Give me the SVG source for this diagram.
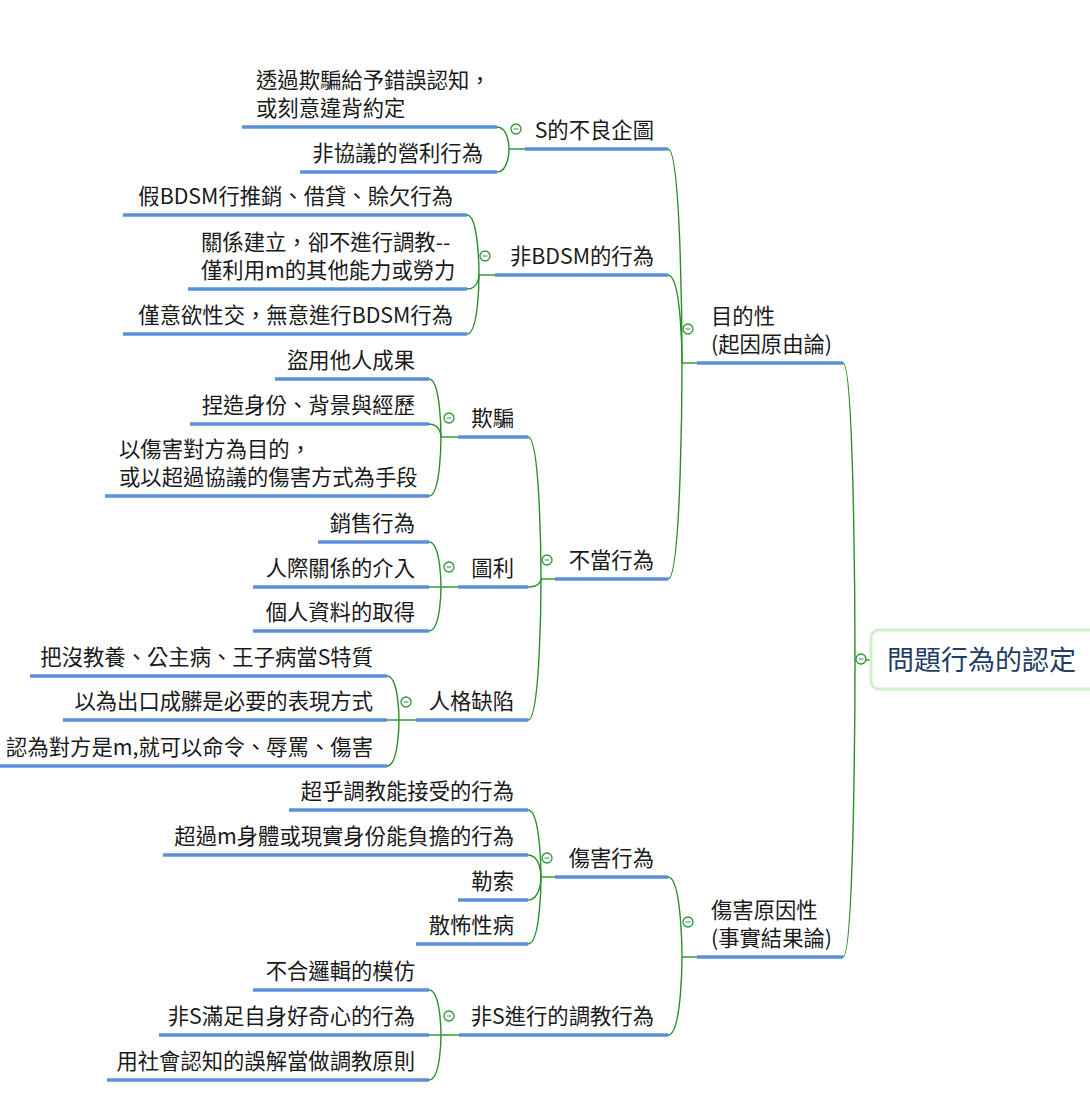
<svg xmlns="http://www.w3.org/2000/svg" width="1090" height="1110" viewBox="0 0 1090 1110">
<defs>
<style>
.t{font-family:"Noto Sans CJK TC","Noto Sans CJK SC",sans-serif;font-size:21.33px;fill:#1a1a1a}
.e{text-anchor:end}
.u{stroke:#5b8fd8;stroke-width:3.5;fill:none}
.c{stroke:#2a8f2a;stroke-width:1.4;fill:none}
.ic circle{fill:#fff;stroke:#2a9a2a;stroke-width:1.3}
.ic line{stroke:#8a9cc4;stroke-width:1.5}
.root{fill:#fff;stroke:#cbf3cb;stroke-width:3}
.rt{font-family:"Noto Sans CJK TC","Noto Sans CJK SC",sans-serif;font-size:27px;fill:#1f3d66}
</style>
<g id="icon" class="ic"><circle cx="0" cy="0" r="5"/><line x1="-2.5" y1="0" x2="2.5" y2="0"/></g>
</defs>
<rect width="1090" height="1110" fill="#fff"/>

<g id="connectors">
<!-- root -->
<path class="c" d="M855 660 H871"/>
<path class="c" d="M843 363 C855 363 855 660 855 660"/>
<path class="c" d="M843 957 C855 957 855 660 855 660"/>
<!-- 目的性 -->
<path class="c" d="M682 363 H697"/>
<path class="c" d="M668 149 C682 149 682 363 682 363"/>
<path class="c" d="M668 275 C682 275 682 363 682 363"/>
<path class="c" d="M668 579 C682 579 682 363 682 363"/>
<!-- 傷害原因性 -->
<path class="c" d="M682 957 H697"/>
<path class="c" d="M668 877 C682 877 682 957 682 957"/>
<path class="c" d="M668 1035 C682 1035 682 957 682 957"/>
<!-- S的不良企圖 -->
<path class="c" d="M509 149 H525"/>
<path class="c" d="M497 127 C509 127 509 149 509 149"/>
<path class="c" d="M497 172 C509 172 509 149 509 149"/>
<!-- 非BDSM -->
<path class="c" d="M479 275 H495"/>
<path class="c" d="M467 215 C479 215 479 275 479 275"/>
<path class="c" d="M467 289 C479 289 479 275 479 275"/>
<path class="c" d="M467 334 C479 334 479 275 479 275"/>
<!-- 不當行為 -->
<path class="c" d="M541 579 H555"/>
<path class="c" d="M528 437 C541 437 541 579 541 579"/>
<path class="c" d="M528 587 C541 587 541 579 541 579"/>
<path class="c" d="M528 720 C541 720 541 579 541 579"/>
<!-- 欺騙 -->
<path class="c" d="M441 437 H458"/>
<path class="c" d="M429 379 C441 379 441 437 441 437"/>
<path class="c" d="M429 424 C441 424 441 437 441 437"/>
<path class="c" d="M429 496 C441 496 441 437 441 437"/>
<!-- 圖利 -->
<path class="c" d="M429 587 H458"/>
<path class="c" d="M429 542 C441 542 441 587 441 587"/>
<path class="c" d="M429 631 C441 631 441 587 441 587"/>
<!-- 人格缺陷 -->
<path class="c" d="M387 720 H416"/>
<path class="c" d="M387 676 C399 676 399 720 399 720"/>
<path class="c" d="M387 766 C399 766 399 720 399 720"/>
<!-- 傷害行為 -->
<path class="c" d="M541 877 H555"/>
<path class="c" d="M528 810 C541 810 541 877 541 877"/>
<path class="c" d="M528 855 C541 855 541 877 541 877"/>
<path class="c" d="M528 900 C541 900 541 877 541 877"/>
<path class="c" d="M528 944 C541 944 541 877 541 877"/>
<!-- 非S進行 -->
<path class="c" d="M429 1035 H459"/>
<path class="c" d="M429 990 C441 990 441 1035 441 1035"/>
<path class="c" d="M429 1080 C441 1080 441 1035 441 1035"/>
</g>

<g id="n-root">
<rect class="root" x="871" y="630" width="232" height="59" rx="8"/>
<text class="rt" x="887" y="670">問題行為的認定</text>
<use href="#icon" x="861" y="659"/>
</g>

<g id="n-mudi">
<line class="u" x1="697" y1="363" x2="843" y2="363"/>
<text class="t" x="711" y="324">目的性</text>
<text class="t" x="711" y="352">(起因原由論)</text>
<use href="#icon" x="688" y="329"/>
</g>

<g id="n-shanghai-yuanyin">
<line class="u" x1="697" y1="957" x2="843" y2="957"/>
<text class="t" x="711" y="918">傷害原因性</text>
<text class="t" x="711" y="946">(事實結果論)</text>
<use href="#icon" x="688" y="922"/>
</g>

<g id="n-s-buliang">
<line class="u" x1="525" y1="149" x2="668" y2="149"/>
<text class="t e" x="654" y="138">S的不良企圖</text>
<use href="#icon" x="516" y="129"/>
</g>
<g id="n-touguo">
<line class="u" x1="242" y1="127" x2="497" y2="127"/>
<text class="t" x="256" y="88">透過欺騙給予錯誤認知，</text>
<text class="t" x="256" y="116">或刻意違背約定</text>
</g>
<g id="n-feixieyi">
<line class="u" x1="300" y1="172" x2="497" y2="172"/>
<text class="t e" x="483" y="161">非協議的營利行為</text>
</g>

<g id="n-feibdsm">
<line class="u" x1="495" y1="275" x2="668" y2="275"/>
<text class="t e" x="654" y="264">非BDSM的行為</text>
<use href="#icon" x="485" y="256"/>
</g>
<g id="n-jia">
<line class="u" x1="123" y1="215" x2="467" y2="215"/>
<text class="t e" x="453" y="204">假BDSM行推銷、借貸、賒欠行為</text>
</g>
<g id="n-guanxi">
<line class="u" x1="188" y1="289" x2="467" y2="289"/>
<text class="t" x="201" y="250">關係建立，卻不進行調教--</text>
<text class="t" x="201" y="278">僅利用m的其他能力或勞力</text>
</g>
<g id="n-jinyiyu">
<line class="u" x1="123" y1="334" x2="467" y2="334"/>
<text class="t e" x="453" y="323">僅意欲性交，無意進行BDSM行為</text>
</g>

<g id="n-budang">
<line class="u" x1="555" y1="579" x2="668" y2="579"/>
<text class="t e" x="654" y="568">不當行為</text>
<use href="#icon" x="547" y="560"/>
</g>

<g id="n-qipian">
<line class="u" x1="458" y1="437" x2="528" y2="437"/>
<text class="t e" x="514" y="426">欺騙</text>
<use href="#icon" x="449" y="418"/>
</g>
<g id="n-daoyong">
<line class="u" x1="275" y1="379" x2="429" y2="379"/>
<text class="t e" x="415" y="368">盜用他人成果</text>
</g>
<g id="n-niezao">
<line class="u" x1="190" y1="424" x2="429" y2="424"/>
<text class="t e" x="415" y="413">捏造身份、背景與經歷</text>
</g>
<g id="n-yishanghai">
<line class="u" x1="105" y1="496" x2="429" y2="496"/>
<text class="t" x="119" y="457">以傷害對方為目的，</text>
<text class="t" x="119" y="485">或以超過協議的傷害方式為手段</text>
</g>

<g id="n-tuli">
<line class="u" x1="458" y1="587" x2="528" y2="587"/>
<text class="t e" x="514" y="576">圖利</text>
<use href="#icon" x="449" y="567"/>
</g>
<g id="n-xiaoshou">
<line class="u" x1="318" y1="542" x2="429" y2="542"/>
<text class="t e" x="415" y="531">銷售行為</text>
</g>
<g id="n-renji">
<line class="u" x1="253" y1="587" x2="429" y2="587"/>
<text class="t e" x="415" y="576">人際關係的介入</text>
</g>
<g id="n-geren">
<line class="u" x1="253" y1="631" x2="429" y2="631"/>
<text class="t e" x="415" y="620">個人資料的取得</text>
</g>

<g id="n-renge">
<line class="u" x1="416" y1="720" x2="528" y2="720"/>
<text class="t e" x="514" y="709">人格缺陷</text>
<use href="#icon" x="406" y="702"/>
</g>
<g id="n-bamei">
<line class="u" x1="30" y1="676" x2="387" y2="676"/>
<text class="t e" x="373" y="665">把沒教養、公主病、王子病當S特質</text>
</g>
<g id="n-yiwei">
<line class="u" x1="63" y1="720" x2="387" y2="720"/>
<text class="t e" x="373" y="709">以為出口成髒是必要的表現方式</text>
</g>
<g id="n-renwei">
<line class="u" x1="0" y1="766" x2="387" y2="766"/>
<text class="t e" x="373" y="755">認為對方是m,就可以命令、辱罵、傷害</text>
</g>

<g id="n-shanghai">
<line class="u" x1="555" y1="877" x2="668" y2="877"/>
<text class="t e" x="654" y="866">傷害行為</text>
<use href="#icon" x="547" y="858"/>
</g>
<g id="n-chaohu">
<line class="u" x1="289" y1="810" x2="528" y2="810"/>
<text class="t e" x="514" y="799">超乎調教能接受的行為</text>
</g>
<g id="n-chaoguo">
<line class="u" x1="163" y1="855" x2="528" y2="855"/>
<text class="t e" x="514" y="844">超過m身體或現實身份能負擔的行為</text>
</g>
<g id="n-lesuo">
<line class="u" x1="458" y1="900" x2="528" y2="900"/>
<text class="t e" x="514" y="889">勒索</text>
</g>
<g id="n-sanbu">
<line class="u" x1="416" y1="944" x2="528" y2="944"/>
<text class="t e" x="514" y="933">散怖性病</text>
</g>

<g id="n-feis">
<line class="u" x1="459" y1="1035" x2="668" y2="1035"/>
<text class="t e" x="654" y="1024">非S進行的調教行為</text>
<use href="#icon" x="449" y="1016"/>
</g>
<g id="n-buhe">
<line class="u" x1="253" y1="990" x2="429" y2="990"/>
<text class="t e" x="415" y="979">不合邏輯的模仿</text>
</g>
<g id="n-feis-manzu">
<line class="u" x1="159" y1="1035" x2="429" y2="1035"/>
<text class="t e" x="415" y="1024">非S滿足自身好奇心的行為</text>
</g>
<g id="n-yongshehui">
<line class="u" x1="107" y1="1080" x2="429" y2="1080"/>
<text class="t e" x="415" y="1069">用社會認知的誤解當做調教原則</text>
</g>
</svg>
